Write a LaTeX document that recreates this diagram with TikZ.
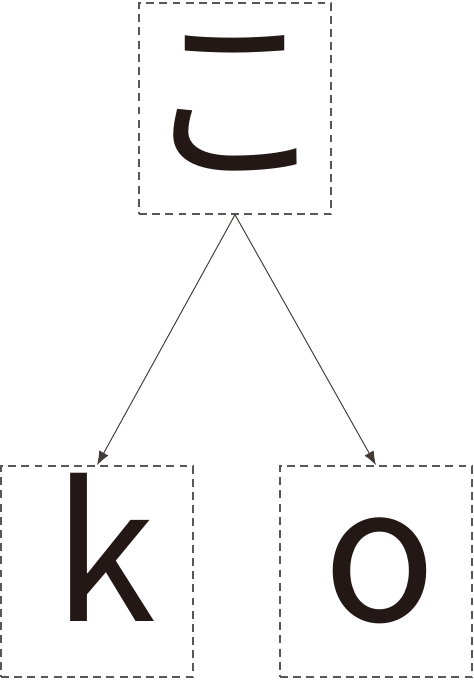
\documentclass[tikz,border=0pt]{standalone}
\usepackage{fontspec}
\usepackage{tikz}
\usetikzlibrary{arrows.meta}
\newfontfamily\jpfont{Noto Sans CJK JP}
\definecolor{ink}{HTML}{231815}
\definecolor{boxline}{HTML}{5A5655}

\begin{document}
\begin{tikzpicture}[
    kana/.style={draw=boxline, dashed, dash pattern=on 4.5pt off 3pt, line width=0.8pt,
                 minimum width=3.84cm, minimum height=4.22cm, inner sep=0pt,
                 text=ink, font=\jpfont\fontsize{106}{106}\selectfont},
    roman/.style={kana, text height=2.05cm, text depth=0.05cm},
    link/.style={draw=ink!85, line width=0.55pt, -{Latex[length=2.8mm, width=2.1mm]}}
  ]
        \useasboundingbox (0,0) rectangle (9.48,-13.62);

        \node [kana, text height=2.5cm, text depth=0.2cm] (ko) at (4.70,-2.17)  {こ};
        \node [roman] (k)  at (1.94,-11.43) {\hspace{0.3cm}k};
        \node [roman] (o)  at (7.52,-11.43) {\hspace{0.15cm}o};

        \draw [link] (ko.south) -- (k.north);
        \draw [link] (ko.south) -- (o.north);
      \end{tikzpicture}
\end{document}
